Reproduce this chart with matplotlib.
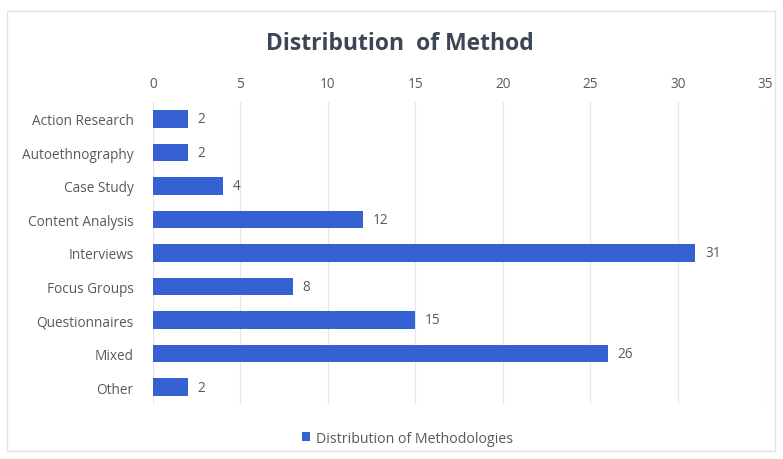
import matplotlib
matplotlib.use("Agg")
import matplotlib.pyplot as plt
from matplotlib.patches import Rectangle

# data
categories = ["Action Research", "Autoethnography", "Case Study", "Content Analysis",
              "Interviews", "Focus Groups", "Questionnaires", "Mixed", "Other"]
counts = [2, 2, 4, 12, 31, 8, 15, 26, 2]
x_ticks = [0, 5, 10, 15, 20, 25, 30, 35]
series_name = "Distribution of Methodologies"
title = "Distribution  of Method"

bar_color = "#3561D2"
text_color = "#595959"

plt.rcParams['font.family'] = ['Open Sans', 'DejaVu Sans']

fig = plt.figure(figsize=(7.83, 4.6), dpi=100)
fig.patches.append(Rectangle((7 / 783, 8 / 460), 768 / 783, 440 / 460,
                             transform=fig.transFigure, fill=False,
                             edgecolor="#e3e3e3", linewidth=1))

ax = fig.add_axes([0.1954, 0.12, 0.782, 0.656])
y = list(range(len(categories)))
bars = ax.barh(y, counts, height=0.52, color=bar_color, zorder=3,
               label=series_name)
ax.set_ylim(len(categories) - 0.5, -0.5)
ax.set_xlim(0, 35)
ax.set_xticks(x_ticks)
ax.xaxis.tick_top()
ax.set_yticks(y)
ax.set_yticklabels(categories)
ax.tick_params(axis='both', length=0, labelsize=9.8, colors=text_color)
ax.tick_params(axis='y', pad=14)
ax.tick_params(axis='x', pad=8)
ax.grid(axis='x', color="#e6e6e6", linewidth=0.9, zorder=0)
for s in ax.spines.values():
    s.set_visible(False)

for b, v in zip(bars, counts):
    ax.text(b.get_width() + 0.55, b.get_y() + b.get_height() / 2, str(v),
            va='center', ha='left', fontsize=9.8, color=text_color)

fig.text(0.511, 0.905, title, ha='center', va='center', fontsize=16.5,
         fontweight='bold', color="#3d4656")

fig.legend(loc='center', bbox_to_anchor=(0.52, 0.045), frameon=False,
           fontsize=10.2, handlelength=0.6, handleheight=0.6, handletextpad=0.4,
           labelcolor=text_color)

fig.savefig("out.png", dpi=100, facecolor="white")
